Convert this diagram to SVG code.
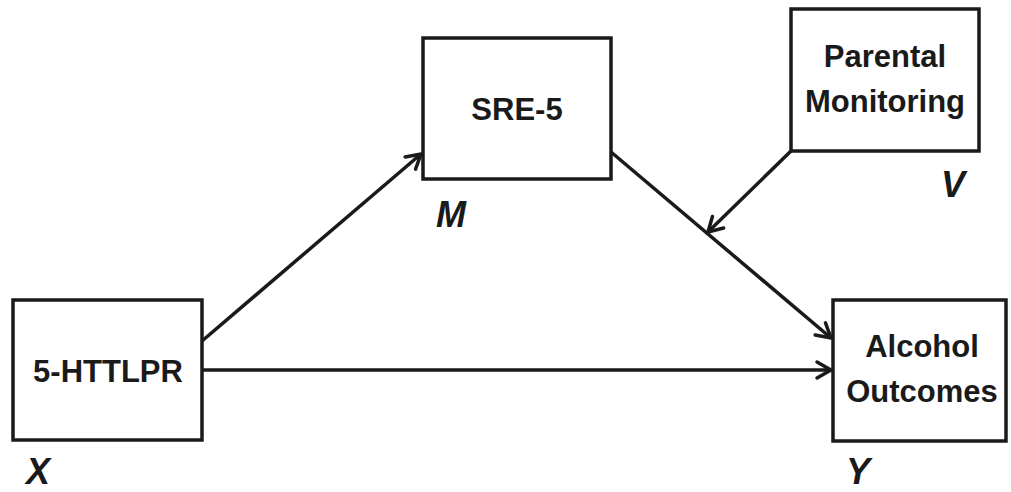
<svg xmlns="http://www.w3.org/2000/svg" width="1011" height="492" viewBox="0 0 1011 492">
<style>
.box{fill:#fff;stroke:#1a1a1a;stroke-width:3.5}
.t{font-family:"Liberation Sans",Arial,sans-serif;font-weight:bold;font-size:31px;fill:#1a1a1a;text-anchor:middle}
.lab{font-family:"Liberation Sans",Arial,sans-serif;font-weight:bold;font-style:italic;font-size:36px;fill:#1a1a1a}
.c{stroke:#1a1a1a;stroke-width:3.5;fill:none;marker-end:url(#ah)}
</style>
<defs>
<marker id="ah" markerUnits="userSpaceOnUse" markerWidth="24" markerHeight="24" refX="17" refY="10" orient="auto" viewBox="0 0 24 20">
<path d="M3,2 L17,10 L3,18" fill="none" stroke="#1a1a1a" stroke-width="3.5" stroke-linecap="round" stroke-linejoin="miter"/>
</marker>
</defs>
<g id="connectors">
<line class="c" x1="202" y1="341" x2="421" y2="154"/>
<line class="c" x1="202" y1="370" x2="831" y2="370"/>
<line class="c" x1="611" y1="152" x2="831" y2="338"/>
<line class="c" x1="791" y1="151" x2="708" y2="232"/>
</g>
<g id="node-x">
<rect class="box" x="13" y="300" width="189" height="140"/>
<text class="t" x="108" y="382">5-HTTLPR</text>
<text class="lab" x="26" y="484">X</text>
</g>
<g id="node-m">
<rect class="box" x="423" y="38" width="188" height="141"/>
<text class="t" x="517" y="120">SRE-5</text>
<text class="lab" x="436" y="227">M</text>
</g>
<g id="node-v">
<rect class="box" x="791" y="9" width="188" height="142"/>
<text class="t" x="885" y="67">Parental</text>
<text class="t" x="885" y="112">Monitoring</text>
<text class="lab" x="941" y="197">V</text>
</g>
<g id="node-y">
<rect class="box" x="833" y="300" width="173" height="141"/>
<text class="t" x="922" y="357">Alcohol</text>
<text class="t" x="922" y="402">Outcomes</text>
<text class="lab" x="846" y="484">Y</text>
</g>
</svg>
